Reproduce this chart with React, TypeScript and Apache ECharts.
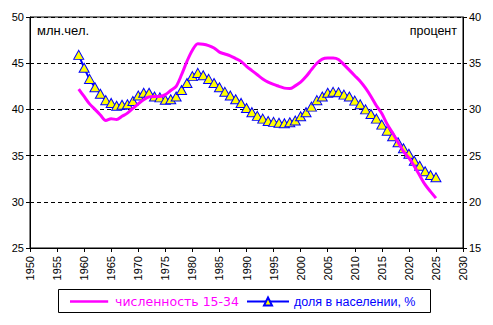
import React, { useEffect, useRef } from "react";
import * as echarts from "echarts";

const years: number[] = [];
for (let y = 1959; y <= 2025; y++) years.push(y);

// численность 15-34, млн.чел. (left axis)
const population = [
  42.2, 41.4, 40.6, 40.0, 39.4, 38.8, 39.0, 38.9, 39.25, 39.6,
  40.1, 40.6, 41.05, 41.35, 41.4, 41.4, 41.6, 42.05, 42.5, 43.75,
  45.2, 46.4, 47.1, 47.05, 46.9, 46.65, 46.2, 46.0, 45.8, 45.5,
  45.2, 44.65, 44.2, 43.75, 43.3, 42.95, 42.7, 42.5, 42.3, 42.25,
  42.55, 42.95, 43.55, 44.3, 45.0, 45.45, 45.55, 45.55, 45.4, 44.85,
  44.25, 43.65, 43.05, 42.3, 41.4, 40.4, 39.55, 38.4, 37.45, 36.45,
  35.45, 34.75, 33.85, 32.85, 31.85, 31.1, 30.4,
];

// доля в населении, % (right axis)
const share = [
  35.9, 34.5, 33.3, 32.4, 31.7, 31.0, 30.7, 30.4, 30.5, 30.55,
  30.9, 31.5, 31.8, 31.8, 31.4, 31.3, 31.05, 31.1, 31.4, 32.1,
  32.85, 33.6, 33.95, 33.7, 33.3, 32.85, 32.4, 31.9, 31.5, 31.1,
  30.7, 30.15, 29.7, 29.3, 29.0, 28.75, 28.65, 28.55, 28.5, 28.6,
  28.8, 29.25, 29.7, 30.3, 31.0, 31.4, 31.8, 31.9, 31.85, 31.6,
  31.4, 30.95, 30.55, 30.0, 29.5, 29.0, 28.35, 27.7, 27.1, 26.45,
  25.8, 25.2, 24.45, 23.9, 23.3, 22.9, 22.65,
];

const seriesNames = ["численность 15-34", "доля в населении, %"];
const leftUnit = "млн.чел.";
const rightUnit = "процент";

const FONT = "'Liberation Sans', Arial, sans-serif";
const WIDE = "'DejaVu Sans', sans-serif";

export default function App() {
  const ref = useRef<HTMLDivElement>(null);
  useEffect(() => {
    if (!ref.current) return;
    const chart = echarts.init(ref.current, undefined, { renderer: "svg" });
    const axisLine = { show: true, lineStyle: { color: "#000", width: 1 } };
    const axisTick = { show: true, inside: false, length: 4, lineStyle: { color: "#000" } };
    const axisLabel = { color: "#000", fontSize: 11, margin: 6, fontFamily: FONT };
    const legendBase = {
      top: 295,
      itemWidth: 42,
      itemHeight: 10,
      padding: 0,
      textStyle: { fontFamily: FONT, fontSize: 12.5 },
    };
    chart.setOption({
      animation: false,
      backgroundColor: "#fff",
      textStyle: { fontFamily: FONT },
      grid: { left: 30, right: 30, top: 17, bottom: 77, show: true, borderColor: "#000", borderWidth: 1, backgroundColor: "transparent" },
      legend: [
        {
          ...legendBase,
          left: 70,
          data: [
            {
              name: seriesNames[0],
              icon: "path://M0,0L0,0M0,4H42V7H0ZM42,11L42,11",
              itemStyle: { color: "#FF00FF" },
              textStyle: { color: "#FF00FF", fontFamily: WIDE, fontSize: 12.5 },
            },
          ],
        },
        {
          ...legendBase,
          left: 246,
          data: [{ name: seriesNames[1], textStyle: { color: "#0000FF" } }],
        },
      ],
      xAxis: {
        type: "value",
        min: 1950,
        max: 2030,
        interval: 5,
        axisLine,
        axisTick,
        splitLine: { show: false },
        axisLabel: { ...axisLabel, rotate: 90, margin: 8, formatter: (v: number) => String(v) },
      },
      yAxis: [
        {
          type: "value",
          min: 25,
          max: 50,
          interval: 5,
          position: "left",
          axisLine,
          axisTick,
          axisLabel,
          splitLine: { show: true, lineStyle: { color: "#000", type: [4, 3], width: 1 } },
        },
        {
          type: "value",
          min: 15,
          max: 40,
          interval: 5,
          position: "right",
          axisLine,
          axisTick,
          axisLabel,
          splitLine: { show: false },
        },
      ],
      graphic: [
        { type: "text", left: 37, top: 24, style: { text: leftUnit, fill: "#000", font: `13px ${FONT}` } },
        { type: "text", right: 36, top: 24, style: { text: rightUnit, fill: "#000", font: `12.5px ${FONT}` } },
        {
          type: "rect",
          shape: { x: 58.5, y: 289.5, width: 372, height: 23 },
          style: { fill: "none", stroke: "#000", lineWidth: 1 },
          silent: true,
        },
      ],
      series: [
        {
          name: seriesNames[1],
          type: "line",
          yAxisIndex: 1,
          data: years.map((y, i) => [y, share[i]]),
          smooth: 0.3,
          symbol: "triangle",
          symbolSize: [10, 9],
          lineStyle: { color: "#0000FF", width: 2 },
          itemStyle: { color: "#FFFF00", borderColor: "#0000FF", borderWidth: 1 },
          z: 2,
        },
        {
          name: seriesNames[0],
          type: "line",
          yAxisIndex: 0,
          data: years.map((y, i) => [y, population[i]]),
          smooth: 0.3,
          symbol: "none",
          lineStyle: { color: "#FF00FF", width: 3 },
          itemStyle: { color: "#FF00FF" },
          z: 3,
        },
      ],
    });
    return () => chart.dispose();
  }, []);
  return <div ref={ref} style={{ width: 493, height: 325, position: "absolute", left: 0, top: 0 }} />;
}
